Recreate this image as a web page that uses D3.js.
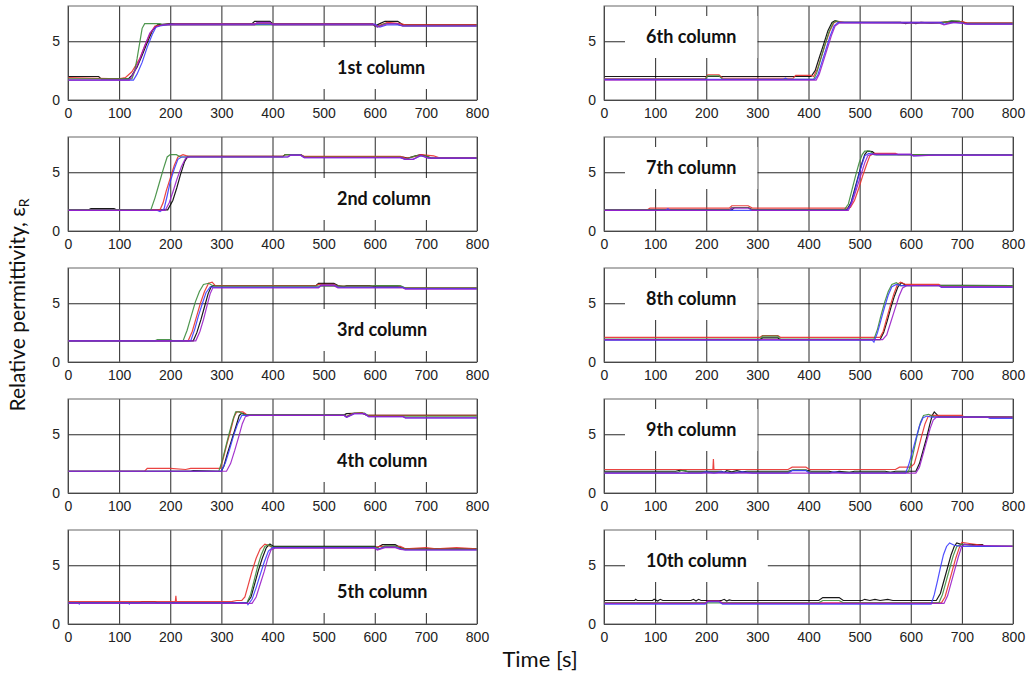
<!DOCTYPE html>
<html><head><meta charset="utf-8">
<script src="https://cdn.jsdelivr.net/npm/d3@7"></script>
<style>body{margin:0;background:#fff}svg{display:block}</style>
</head><body>
<svg id="c" width="1026" height="676"></svg>
<script>
// ---- data: each series is a flat list of [time, value] pairs ----
const seriesNames = ["black","red","green","blue","purple"];
const seriesColors = ["#000000","#e8302c","#3c8c3c","#3c3cff","#9a1ec8"];
const panelLabels = ["1st column","2nd column","3rd column","4th column","5th column",
                     "6th column","7th column","8th column","9th column","10th column"];
const xTicks = [0,100,200,300,400,500,600,700,800];
const yTicks = [0,5];

const col1 = [
 [0,2.0, 60,2.0, 65,1.8, 118,1.8, 125,2.1, 135,2.8, 145,3.8, 155,4.9, 165,5.9, 175,6.4, 200,6.5, 360,6.5, 365,6.7, 395,6.7, 400,6.5, 595,6.5, 600,6.3, 610,6.5, 620,6.7, 645,6.7, 655,6.4, 800,6.4],
 [0,1.9, 100,1.8, 112,1.9, 125,2.4, 140,3.5, 150,4.6, 160,5.6, 170,6.3, 185,6.4, 210,6.5, 595,6.5, 605,6.3, 625,6.6, 650,6.5, 660,6.4, 800,6.4],
 [0,1.8, 125,1.8, 130,2.4, 135,3.5, 140,4.8, 145,6.1, 150,6.5, 180,6.5, 185,6.4, 600,6.4, 605,6.2, 620,6.5, 640,6.5, 655,6.3, 800,6.3],
 [0,1.7, 128,1.7, 135,2.2, 145,3.2, 155,4.5, 165,5.6, 172,6.2, 180,6.3, 200,6.45, 600,6.45, 610,6.2, 625,6.4, 645,6.4, 655,6.3, 800,6.3],
 [0,1.7, 120,1.7, 130,2.4, 140,3.4, 150,4.6, 160,5.7, 170,6.2, 185,6.4, 365,6.4, 370,6.6, 395,6.6, 400,6.4, 600,6.4, 605,6.2, 625,6.5, 645,6.5, 655,6.3, 800,6.3]
];
const col2 = [
 [0,1.8, 40,1.8, 45,1.9, 90,1.9, 95,1.8, 195,1.8, 205,2.6, 213,3.7, 220,4.8, 228,5.9, 234,6.35, 420,6.35, 425,6.5, 455,6.5, 462,6.3, 655,6.3, 665,6.2, 680,6.4, 690,6.5, 700,6.4, 710,6.2, 800,6.2],
 [0,1.8, 180,1.8, 186,2.4, 192,3.4, 200,4.5, 208,5.6, 215,6.3, 225,6.5, 235,6.35, 420,6.35, 425,6.5, 455,6.5, 462,6.35, 650,6.35, 660,6.2, 675,6.3, 690,6.5, 715,6.4, 725,6.25, 800,6.25],
 [0,1.8, 162,1.8, 170,2.8, 178,4.0, 186,5.2, 194,6.3, 200,6.5, 212,6.5, 220,6.3, 420,6.3, 425,6.5, 455,6.5, 462,6.3, 650,6.3, 660,6.1, 680,6.4, 700,6.4, 710,6.2, 800,6.2],
 [0,1.75, 175,1.75, 180,1.65, 188,1.9, 194,3.0, 200,4.2, 208,5.3, 215,6.1, 222,6.3, 430,6.3, 435,6.45, 455,6.45, 462,6.25, 650,6.25, 660,6.1, 675,6.1, 690,6.4, 705,6.2, 800,6.2],
 [0,1.75, 190,1.75, 198,2.4, 205,3.3, 213,4.4, 222,5.5, 230,6.2, 238,6.3, 430,6.3, 435,6.45, 455,6.45, 462,6.25, 650,6.25, 660,6.1, 675,6.1, 690,6.45, 705,6.2, 800,6.2]
];
const col3 = [
 [0,1.8, 245,1.8, 252,2.5, 260,3.6, 267,4.7, 274,5.8, 280,6.4, 285,6.5, 485,6.5, 490,6.7, 520,6.7, 528,6.5, 540,6.4, 545,6.5, 590,6.5, 600,6.4, 650,6.4, 660,6.3, 800,6.3],
 [0,1.8, 235,1.8, 243,2.6, 251,3.8, 259,5.0, 267,6.0, 275,6.7, 282,6.8, 288,6.5, 485,6.5, 490,6.6, 520,6.6, 528,6.45, 595,6.45, 600,6.5, 645,6.5, 660,6.3, 800,6.3],
 [0,1.8, 170,1.8, 175,1.9, 200,1.9, 205,1.8, 225,1.8, 233,2.7, 241,3.9, 249,5.1, 257,6.0, 265,6.6, 275,6.7, 285,6.45, 590,6.45, 600,6.5, 650,6.5, 660,6.3, 800,6.3],
 [0,1.8, 240,1.8, 248,2.8, 255,3.9, 263,5.0, 270,5.9, 278,6.4, 285,6.35, 490,6.35, 495,6.55, 520,6.55, 528,6.35, 655,6.35, 660,6.25, 800,6.25],
 [0,1.8, 250,1.8, 258,2.6, 265,3.6, 272,4.8, 278,5.8, 283,6.3, 290,6.3, 490,6.3, 495,6.5, 520,6.5, 528,6.3, 655,6.3, 660,6.2, 800,6.2]
];
const col4 = [
 [0,1.85, 240,1.85, 245,1.9, 295,1.85, 300,1.85, 305,2.3, 312,3.4, 320,4.5, 328,5.6, 335,6.6, 340,6.8, 350,6.65, 540,6.65, 545,6.75, 575,6.8, 585,6.6, 800,6.6],
 [0,1.85, 150,1.85, 155,2.1, 200,2.1, 230,2.0, 240,2.1, 298,2.1, 304,3.0, 311,4.2, 318,5.3, 325,6.5, 330,6.9, 342,6.9, 350,6.65, 540,6.65, 545,6.5, 555,6.75, 575,6.85, 585,6.6, 800,6.6],
 [0,1.85, 295,1.85, 302,2.8, 309,4.0, 316,5.2, 323,6.3, 328,6.9, 335,6.9, 345,6.65, 540,6.65, 545,6.5, 560,6.8, 580,6.8, 588,6.55, 800,6.55],
 [0,1.85, 300,1.85, 308,2.6, 316,3.7, 324,4.9, 332,5.9, 340,6.6, 350,6.6, 540,6.6, 545,6.45, 560,6.75, 580,6.75, 588,6.5, 655,6.5, 660,6.4, 800,6.4],
 [0,1.85, 310,1.85, 318,2.5, 326,3.6, 334,4.8, 341,5.9, 347,6.5, 355,6.6, 540,6.6, 545,6.45, 560,6.75, 580,6.75, 588,6.5, 655,6.5, 660,6.4, 800,6.4]
];
const col5 = [
 [0,1.8, 140,1.8, 145,1.9, 170,1.9, 175,1.8, 350,1.8, 358,2.3, 365,3.4, 372,4.5, 380,5.6, 388,6.5, 395,6.8, 402,6.6, 600,6.6, 605,6.5, 615,6.75, 640,6.75, 650,6.5, 660,6.4, 800,6.4],
 [0,1.9, 210,1.9, 211,2.4, 212,1.9, 320,1.9, 330,2.0, 340,2.0, 346,2.3, 353,3.4, 360,4.5, 368,5.6, 376,6.4, 385,6.8, 392,6.7, 400,6.5, 600,6.5, 610,6.6, 650,6.6, 660,6.4, 700,6.5, 720,6.4, 760,6.5, 800,6.4],
 [0,1.8, 350,1.8, 357,2.5, 364,3.7, 371,4.9, 378,5.9, 385,6.6, 392,6.75, 400,6.55, 600,6.55, 610,6.4, 620,6.65, 640,6.65, 650,6.45, 660,6.35, 800,6.35],
 [0,1.8, 20,1.8, 22,1.7, 24,1.8, 118,1.8, 120,1.7, 122,1.8, 350,1.8, 352,1.65, 360,2.1, 368,3.1, 376,4.2, 384,5.3, 392,6.2, 400,6.5, 600,6.5, 605,6.35, 620,6.55, 640,6.55, 650,6.4, 660,6.3, 800,6.3],
 [0,1.75, 360,1.75, 368,2.3, 376,3.4, 384,4.5, 391,5.6, 397,6.3, 405,6.45, 600,6.45, 605,6.3, 620,6.5, 640,6.5, 650,6.35, 660,6.3, 800,6.3]
];
const col6 = [
 [0,2.0, 405,2.0, 413,2.5, 421,3.6, 430,4.8, 438,5.9, 446,6.6, 452,6.75, 460,6.6, 580,6.6, 590,6.5, 600,6.6, 610,6.5, 620,6.6, 640,6.55, 660,6.6, 680,6.7, 695,6.7, 710,6.55, 800,6.55],
 [0,1.8, 198,1.8, 203,2.15, 225,2.15, 232,1.85, 370,1.85, 375,2.1, 405,2.1, 410,2.0, 418,2.7, 426,3.8, 434,4.9, 442,5.9, 450,6.6, 458,6.7, 470,6.6, 690,6.6, 700,6.7, 710,6.55, 800,6.55],
 [0,1.75, 198,1.75, 203,2.05, 225,2.05, 232,1.75, 410,1.75, 416,2.3, 424,3.5, 432,4.7, 440,5.8, 448,6.55, 455,6.75, 462,6.6, 660,6.55, 680,6.75, 695,6.7, 705,6.5, 800,6.5],
 [0,1.75, 350,1.75, 355,1.85, 360,1.75, 412,1.75, 418,2.1, 426,3.2, 434,4.3, 442,5.4, 450,6.3, 458,6.6, 660,6.6, 665,6.45, 680,6.6, 700,6.55, 710,6.45, 800,6.45],
 [0,1.7, 415,1.7, 421,2.2, 429,3.3, 437,4.4, 445,5.5, 452,6.3, 460,6.55, 655,6.55, 665,6.4, 685,6.6, 700,6.55, 712,6.45, 800,6.45]
];
const col7 = [
 [0,1.8, 250,1.8, 255,2.0, 282,2.0, 290,1.8, 475,1.8, 483,2.4, 490,3.5, 497,4.6, 504,5.7, 510,6.5, 515,6.8, 525,6.75, 532,6.5, 800,6.5],
 [0,1.8, 85,1.8, 90,1.95, 245,1.95, 250,2.15, 282,2.15, 290,1.95, 475,1.95, 482,2.0, 490,2.6, 498,3.6, 506,4.7, 514,5.7, 520,6.4, 528,6.6, 570,6.6, 575,6.5, 800,6.5],
 [0,1.8, 245,1.8, 250,2.0, 282,2.0, 290,1.8, 470,1.8, 478,2.3, 485,3.5, 492,4.7, 499,5.8, 505,6.5, 510,6.8, 520,6.8, 528,6.5, 800,6.5],
 [0,1.75, 120,1.75, 125,1.9, 130,1.75, 475,1.75, 482,2.2, 490,3.3, 497,4.5, 504,5.6, 510,6.4, 518,6.6, 530,6.5, 600,6.5, 605,6.4, 640,6.45, 800,6.45],
 [0,1.75, 245,1.75, 250,1.95, 282,1.95, 290,1.75, 478,1.75, 486,2.5, 494,3.6, 502,4.7, 510,5.8, 516,6.4, 525,6.55, 600,6.55, 605,6.4, 650,6.45, 800,6.45]
];
const col8 = [
 [0,1.9, 305,1.9, 310,2.05, 340,2.05, 345,1.9, 540,1.9, 547,2.5, 554,3.5, 561,4.6, 568,5.6, 575,6.4, 582,6.75, 590,6.55, 800,6.5],
 [0,2.1, 305,2.1, 310,2.25, 340,2.25, 345,2.1, 540,2.1, 546,2.6, 553,3.7, 560,4.8, 567,5.8, 574,6.6, 580,6.8, 590,6.6, 655,6.6, 660,6.45, 800,6.45],
 [0,1.95, 305,1.95, 310,2.2, 340,2.2, 345,1.95, 528,1.95, 535,2.8, 542,4.0, 549,5.1, 556,6.0, 563,6.6, 572,6.75, 580,6.5, 800,6.5],
 [0,1.85, 525,1.85, 528,1.7, 535,2.5, 542,3.6, 549,4.7, 556,5.7, 563,6.4, 572,6.6, 580,6.5, 655,6.5, 660,6.35, 800,6.35],
 [0,1.9, 545,1.9, 553,2.3, 561,3.4, 569,4.5, 577,5.6, 584,6.3, 592,6.5, 655,6.5, 660,6.4, 800,6.4]
];
const col9 = [
 [0,1.85, 140,1.85, 150,1.95, 160,1.85, 230,1.85, 235,1.75, 240,1.9, 250,1.8, 260,1.9, 270,1.8, 280,1.85, 360,1.85, 370,1.95, 395,1.95, 405,1.85, 440,1.85, 450,1.75, 460,1.85, 480,1.75, 490,1.85, 550,1.85, 560,1.75, 570,1.85, 610,1.85, 617,2.5, 624,3.6, 631,4.7, 637,5.8, 642,6.6, 646,6.9, 655,6.5, 800,6.45],
 [0,2.0, 213,2.0, 214,2.9, 215,2.0, 360,2.0, 368,2.2, 395,2.2, 402,2.0, 570,2.0, 578,2.2, 600,2.2, 607,2.5, 614,3.6, 621,4.8, 628,5.9, 634,6.5, 640,6.6, 700,6.6, 705,6.45, 800,6.45],
 [0,1.75, 145,1.75, 150,1.9, 160,1.9, 165,1.75, 360,1.75, 368,1.95, 395,1.95, 402,1.75, 595,1.75, 601,2.6, 607,3.8, 613,5.0, 619,6.0, 625,6.6, 635,6.7, 645,6.5, 800,6.45],
 [0,1.7, 190,1.7, 200,1.8, 215,1.7, 230,1.8, 250,1.7, 270,1.8, 290,1.7, 360,1.7, 368,1.9, 395,1.9, 402,1.7, 440,1.7, 450,1.8, 470,1.7, 590,1.7, 596,2.4, 603,3.5, 610,4.6, 617,5.7, 624,6.4, 632,6.55, 640,6.45, 750,6.45, 755,6.35, 800,6.35],
 [0,1.7, 610,1.7, 617,2.2, 624,3.3, 631,4.4, 638,5.5, 644,6.2, 650,6.45, 800,6.45]
];
const col10 = [
 [0,2.0, 60,2.0, 62,2.1, 65,2.0, 95,2.0, 98,2.1, 105,1.95, 110,2.1, 115,2.0, 170,2.0, 175,2.1, 180,1.95, 185,2.1, 190,2.0, 230,2.0, 235,2.1, 240,1.95, 245,2.05, 250,2.0, 420,2.0, 428,2.25, 460,2.25, 468,2.0, 505,2.0, 510,2.1, 520,2.0, 530,2.1, 540,2.0, 555,2.1, 565,2.0, 650,2.0, 658,2.6, 665,3.7, 672,4.8, 679,5.9, 685,6.6, 690,6.9, 700,6.75, 740,6.75, 745,6.6, 800,6.6],
 [0,1.8, 198,1.8, 203,1.95, 225,1.95, 232,1.8, 660,1.8, 667,2.3, 674,3.4, 681,4.5, 688,5.6, 695,6.5, 700,6.95, 715,6.85, 740,6.7, 745,6.6, 800,6.6],
 [0,1.8, 420,1.8, 428,2.0, 460,2.0, 468,1.8, 655,1.8, 662,2.5, 669,3.6, 676,4.7, 683,5.8, 690,6.6, 700,6.8, 720,6.7, 730,6.6, 800,6.6],
 [0,1.7, 198,1.7, 203,1.9, 225,1.9, 232,1.7, 640,1.7, 646,2.5, 652,3.6, 658,4.8, 664,5.9, 670,6.6, 676,6.9, 685,6.7, 700,6.6, 800,6.6],
 [0,1.75, 198,1.75, 203,1.95, 225,1.95, 232,1.75, 665,1.75, 672,2.4, 679,3.5, 686,4.6, 693,5.7, 699,6.5, 705,6.8, 720,6.7, 800,6.6]
];
const panels = [col1,col2,col3,col4,col5,col6,col7,col8,col9,col10];

// ---- layout ----
const svg = d3.select("#c");
const W = 409, H = 94;
const colX = [68, 604];
const rowY = [6, 137, 268, 399, 530];

const pairs = arr => d3.range(0, arr.length, 2).map(i => [arr[i], arr[i+1]]);

panels.forEach((series, pi) => {
  const c = pi < 5 ? 0 : 1, r = pi % 5;
  const g = svg.append("g").attr("transform", `translate(${colX[c]},${rowY[r]})`);
  const x = d3.scaleLinear().domain([0, 800]).range([0, W]);
  const y = d3.scaleLinear().domain([0, 8]).range([H, 0]);

  g.append("rect").attr("width", W).attr("height", H).attr("fill", "#fff");

  // grid + x tick labels
  const xa = g.append("g").attr("transform", `translate(0,${H})`)
    .call(d3.axisBottom(x).tickValues(xTicks).tickSize(-H).tickPadding(8));
  xa.select(".domain").remove();
  xa.selectAll(".tick line").attr("stroke", "#111").attr("stroke-width", 0.9);
  xa.selectAll(".tick text").attr("font-family", "Liberation Sans, Arial, sans-serif")
    .attr("font-size", 14).attr("fill", "#222");

  const ya = g.append("g")
    .call(d3.axisLeft(y).tickValues(yTicks).tickSize(-W).tickPadding(8));
  ya.select(".domain").remove();
  ya.selectAll(".tick line").attr("stroke", "#111").attr("stroke-width", 0.9);
  ya.selectAll(".tick text").attr("font-family", "Liberation Sans, Arial, sans-serif")
    .attr("font-size", 14).attr("fill", "#222");

  // label with white box
  const lx = c === 0 ? 269 : 42;
  const ly = c === 0 ? 62 : 31;
  const lab = g.append("text").attr("x", lx).attr("y", ly).attr("dy", "0.35em")
    .attr("font-family", "Lato, 'Open Sans', sans-serif").attr("font-weight", "bold")
    .attr("font-size", 18).attr("fill", "#111").text(panelLabels[pi]);
  const bb = lab.node().getBBox();
  g.append("rect")
    .attr("x", bb.x - 21).attr("y", ly - 21).attr("width", bb.width + 42).attr("height", 42)
    .attr("fill", "#fff");

  // series
  const line = d3.line().x(d => x(d[0])).y(d => y(d[1]));
  series.forEach((s, si) => {
    g.append("path").datum(pairs(s)).attr("d", line)
      .attr("fill", "none").attr("stroke", seriesColors[si])
      .attr("stroke-width", 1.2).attr("stroke-opacity", 0.9);
  });
  lab.raise();

  // frame
  g.append("rect").attr("width", W).attr("height", H)
    .attr("fill", "none").attr("stroke", "#666").attr("stroke-width", 1);
});

// axis titles
svg.append("text").attr("x", 540).attr("y", 667).attr("text-anchor", "middle")
  .attr("font-family", "Lato, 'Open Sans', sans-serif").attr("font-size", 22).attr("fill", "#111")
  .text("Time [s]");
const yt = svg.append("text").attr("transform", "translate(25,305) rotate(-90)")
  .attr("text-anchor", "middle")
  .attr("font-family", "Lato, 'Open Sans', sans-serif").attr("font-size", 21).attr("fill", "#111");
yt.append("tspan").text("Relative permittivity, ε");
yt.append("tspan").attr("font-size", 14).attr("dy", 4).text("R");
</script>
</body></html>
